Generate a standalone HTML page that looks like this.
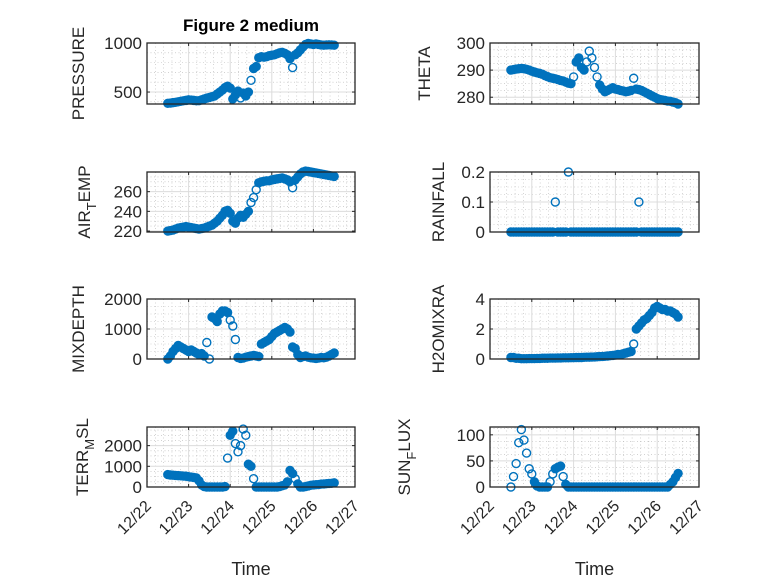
<!DOCTYPE html>
<html><head><meta charset="utf-8"><style>
html,body{margin:0;padding:0;background:#fff}
svg{display:block;font-family:"Liberation Sans",sans-serif}
</style></head><body>
<svg id="fig" width="778" height="583" viewBox="0 0 778 583" xmlns="http://www.w3.org/2000/svg">
<rect width="778" height="583" fill="#fff"/>
<text x="251" y="31" text-anchor="middle" font-size="17" font-weight="bold" fill="#000">Figure 2 medium</text>
</svg>
<script>
// time in days since 12/22 : t = 0.5 + i/16
const tStart = 0.5;
const tStep = 1/16;
const xTickLabels = ["12/22","12/23","12/24","12/25","12/26","12/27"];

const pressure = [385,388,392,395,400,405,410,415,420, 418,415,410,412,420,430,438,445, 452,460,480,500,520,545,560,540, 430,470,510,440,490,460,500,620, 740,760,850,860,855,860,870,875, 880,890,900,905,895,880,840,750, 880,900,930,960,985,995,990,985, 990,985,980,978,980,982,980,978];
const airTemp = [220,220.5,221,222,223,223.5,224,224.5,224, 223.5,223,222.5,222,222.5,223,224,225, 226,228,230,233,236,240,241,238, 230,228,233,236,234,237,240,249, 254,262,269,270,270.5,271,271,272, 272.5,273,273.5,274,273,272,270,264, 272,275,278,280,281,280.5,280,279.5, 279,278.5,278,277.5,277,276.5,276,275.5];
const mixDepth = [0,100,250,350,450,400,350,300,250, 300,250,200,150,180,100,550,0, 1400,1350,1250,1500,1600,1600,1550,1300, 1100,650,50,20,30,60,80,100, 120,100,80,500,550,600,650,750, 850,900,950,1000,1050,1000,900,400, 350,150,50,80,100,60,40,30, 20,30,50,40,60,100,150,200];
const terrMsl = [600,580,570,560,550,540,530,520,500, 480,460,440,300,100,20,0,0, 0,0,0,0,0,20,1400,2500, 2700,2100,1700,2000,2800,2500,1100,1000, 400,0,0,0,0,0,0,0, 0,0,20,60,100,250,800,650, 400,150,0,0,20,50,80,100, 110,120,140,150,160,170,180,200];
const theta = [290,290.2,290.4,290.5,290.6,290.5,290.3,290,289.6, 289.3,289,288.8,288.5,288,287.6,287.2,287, 286.8,286.5,286.2,286,285.6,285.2,285,287.5, 293,294.5,291,290,293,297,294.5,291, 287.5,284.5,283,282,282.5,283,283.5,283, 282.8,282.5,282.3,282,282.2,282.5,287,283, 282.8,282.5,282,281.5,281,280.5,280,279.5, 279.2,279,278.8,278.6,278.5,278.2,278,277.5];
const rainfall = [0,0,0,0,0,0,0,0,0, 0,0,0,0,0,0,0,0, 0.1,0,0,0,0,0.2,0,0, 0,0,0,0,0,0,0,0, 0,0,0,0,0,0,0,0, 0,0,0,0,0,0,0,0, 0.1,0,0,0,0,0,0,0, 0,0,0,0,0,0,0,0];
const h2oMix = [0.1,0.1,0.05,0.05,0.02,0.02,0.02,0.03,0.03, 0.03,0.04,0.04,0.05,0.05,0.05,0.06,0.06, 0.06,0.07,0.07,0.08,0.08,0.08,0.09,0.09, 0.1,0.1,0.1,0.11,0.12,0.12,0.13,0.14, 0.15,0.16,0.17,0.18,0.2,0.22,0.24,0.26, 0.3,0.3,0.35,0.4,0.45,0.5,1.0,2.0, 2.2,2.4,2.6,2.7,2.9,3.1,3.4,3.5, 3.4,3.3,3.3,3.2,3.2,3.1,3.0,2.8];
const sunFlux = [0,20,45,85,110,90,65,35,25, 10,2,0,0,0,0,10,25, 35,38,40,20,5,0,0,0, 0,0,0,0,0,0,0,0, 0,0,0,0,0,0,0,0, 0,0,0,0,0,0,0,0, 0,0,0,0,0,0,0,0, 0,0,0,0,5,10,18,26];

const pressureTicks = [500,1000];
const airTempTicks = [220,240,260];
const mixDepthTicks = [0,1000,2000];
const terrTicks = [0,1000,2000];
const thetaTicks = [280,290,300];
const rainTicks = [0,0.1,0.2];
const h2oTicks = [0,2,4];
const sunTicks = [0,50,100];

const NS = "http://www.w3.org/2000/svg";
const svg = document.getElementById('fig');
function mk(tag, attrs, parent){const e=document.createElementNS(NS,tag);for(const k in attrs)e.setAttribute(k,attrs[k]);(parent||svg).appendChild(e);return e;}

const colsX = [[147,355],[490,699]];
const rowsY = [[43,104],[172,232],[299,359],[427,487]];
const BLUE = '#0072BD';

const panels = [
 {name:'pressure',col:0,row:0,data:pressure,ylim:[378,1000],ticks:pressureTicks,minor:100,label:['PRESSURE'],lx:84},
 {name:'air-temp',col:0,row:1,data:airTemp,ylim:[219,280],ticks:airTempTicks,minor:5,label:['AIR','T','EMP'],lx:90},
 {name:'mixdepth',col:0,row:2,data:mixDepth,ylim:[0,2000],ticks:mixDepthTicks,minor:250,label:['MIXDEPTH'],lx:84},
 {name:'terr-msl',col:0,row:3,data:terrMsl,ylim:[0,2900],ticks:terrTicks,minor:250,label:['TERR','M','SL'],lx:88},
 {name:'theta',col:1,row:0,data:theta,ylim:[277.5,300],ticks:thetaTicks,minor:2.5,label:['THETA'],lx:430},
 {name:'rainfall',col:1,row:1,data:rainfall,ylim:[0,0.2],ticks:rainTicks,minor:0.025,label:['RAINFALL'],lx:444},
 {name:'h2omixra',col:1,row:2,data:h2oMix,ylim:[0,4],ticks:h2oTicks,minor:0.5,label:['H2OMIXRA'],lx:444},
 {name:'sun-flux',col:1,row:3,data:sunFlux,ylim:[0,115],ticks:sunTicks,minor:12.5,label:['SUN','F','LUX'],lx:410}
];

panels.forEach(p=>{
  const [x0,x1]=colsX[p.col], [y0,y1]=rowsY[p.row];
  const xs = t => x0 + (t-0)/5*(x1-x0);
  const ys = v => y1 - (v-p.ylim[0])/(p.ylim[1]-p.ylim[0])*(y1-y0);
  const g = mk('g',{});
  
  
  for(let d=0; d<5; d+=0.2){ if(Math.abs(d-Math.round(d))<1e-6) continue;
    const l=mk('line',{x1:xs(d),x2:xs(d),y1:y0,y2:y1,stroke:'#b8b8b8','stroke-width':0.6,'stroke-dasharray':'1 2.5'},g);
     }
  for(let v=Math.ceil(p.ylim[0]/p.minor)*p.minor; v<p.ylim[1]; v+=p.minor){
    if(p.ticks.some(t=>Math.abs(t-v)<1e-9)) continue;
    const l=mk('line',{x1:x0,x2:x1,y1:ys(v),y2:ys(v),stroke:'#b8b8b8','stroke-width':0.6,'stroke-dasharray':'1 2.5'},g);
     }
  for(let d=1; d<5; d++){ const l=mk('line',{x1:xs(d),x2:xs(d),y1:y0,y2:y1,stroke:'#dcdcdc','stroke-width':1},g);
     }
  p.ticks.forEach(v=>{ const yy=ys(v);
    const l=mk('line',{x1:x0,x2:x1,y1:yy,y2:yy,stroke:'#dcdcdc','stroke-width':1},g);
     
    const tk=mk('line',{x1:x0,x2:x0+3,y1:yy,y2:yy,stroke:'#262626','stroke-width':1},g);
     
    const tk2=mk('line',{x1:x1-3,x2:x1,y1:yy,y2:yy,stroke:'#262626','stroke-width':1},g);
     
    const tx=mk('text',{x:x0-5,y:yy+6,'text-anchor':'end','font-size':17,fill:'#262626'},g);
     
    tx.textContent=String(v);
  });
  for(let d=0; d<=5; d++){
    const tk=mk('line',{x1:xs(d),x2:xs(d),y1:y1,y2:y1-3,stroke:'#262626','stroke-width':1},g);
     
    const tk2=mk('line',{x1:xs(d),x2:xs(d),y1:y0,y2:y0+3,stroke:'#262626','stroke-width':1},g);
     
  }
  // dense-band segments between close consecutive points
  for(let i=1;i<p.data.length;i++){
    const ax=xs(tStart+(i-1)*tStep), ay=ys(p.data[i-1]);
    const bx=xs(tStart+i*tStep), by=ys(p.data[i]);
    if(Math.hypot(bx-ax,by-ay)<5){
      const s=mk('line',{x1:ax,y1:ay,x2:bx,y2:by,stroke:BLUE,'stroke-width':8,'stroke-linecap':'round'},g);
      
      
    }
  }
  p.data.forEach((v,i)=>{
    const c=mk('circle',{cx:xs(tStart+i*tStep),cy:ys(v),r:4,fill:'none',stroke:BLUE,'stroke-width':1.4},g);
    
    
  });
  const box=mk('rect',{x:x0,y:y0,width:x1-x0,height:y1-y0,fill:'none',stroke:'#262626','stroke-width':1.3},g);
   
  const cy=(y0+y1)/2;
  const lab=mk('text',{x:p.lx,y:cy,'text-anchor':'middle','font-size':17,fill:'#262626',transform:`rotate(-90 ${p.lx} ${cy})`},g);
  
  
  if(p.label.length===1){lab.textContent=p.label[0];}
  else{
    const a=mk('tspan',{},lab);a.textContent=p.label[0];
    const b=mk('tspan',{dy:6,'font-size':13},lab);b.textContent=p.label[1];
    const c=mk('tspan',{dy:-6},lab);c.textContent=p.label[2];
  }
  if(p.row===3){
    xTickLabels.forEach((s,d)=>{
      const xx=xs(d)+5, yy=y1+20;
      const t=mk('text',{x:xx,y:yy,'text-anchor':'end','font-size':16,fill:'#262626',transform:`rotate(-45 ${xx} ${yy})`},g);
       
      t.textContent=s;
    });
    const xl=mk('text',{x:(x0+x1)/2,y:575,'text-anchor':'middle','font-size':18,fill:'#262626'},g);
     
    xl.textContent='Time';
  }
});
</script>
</body></html>
